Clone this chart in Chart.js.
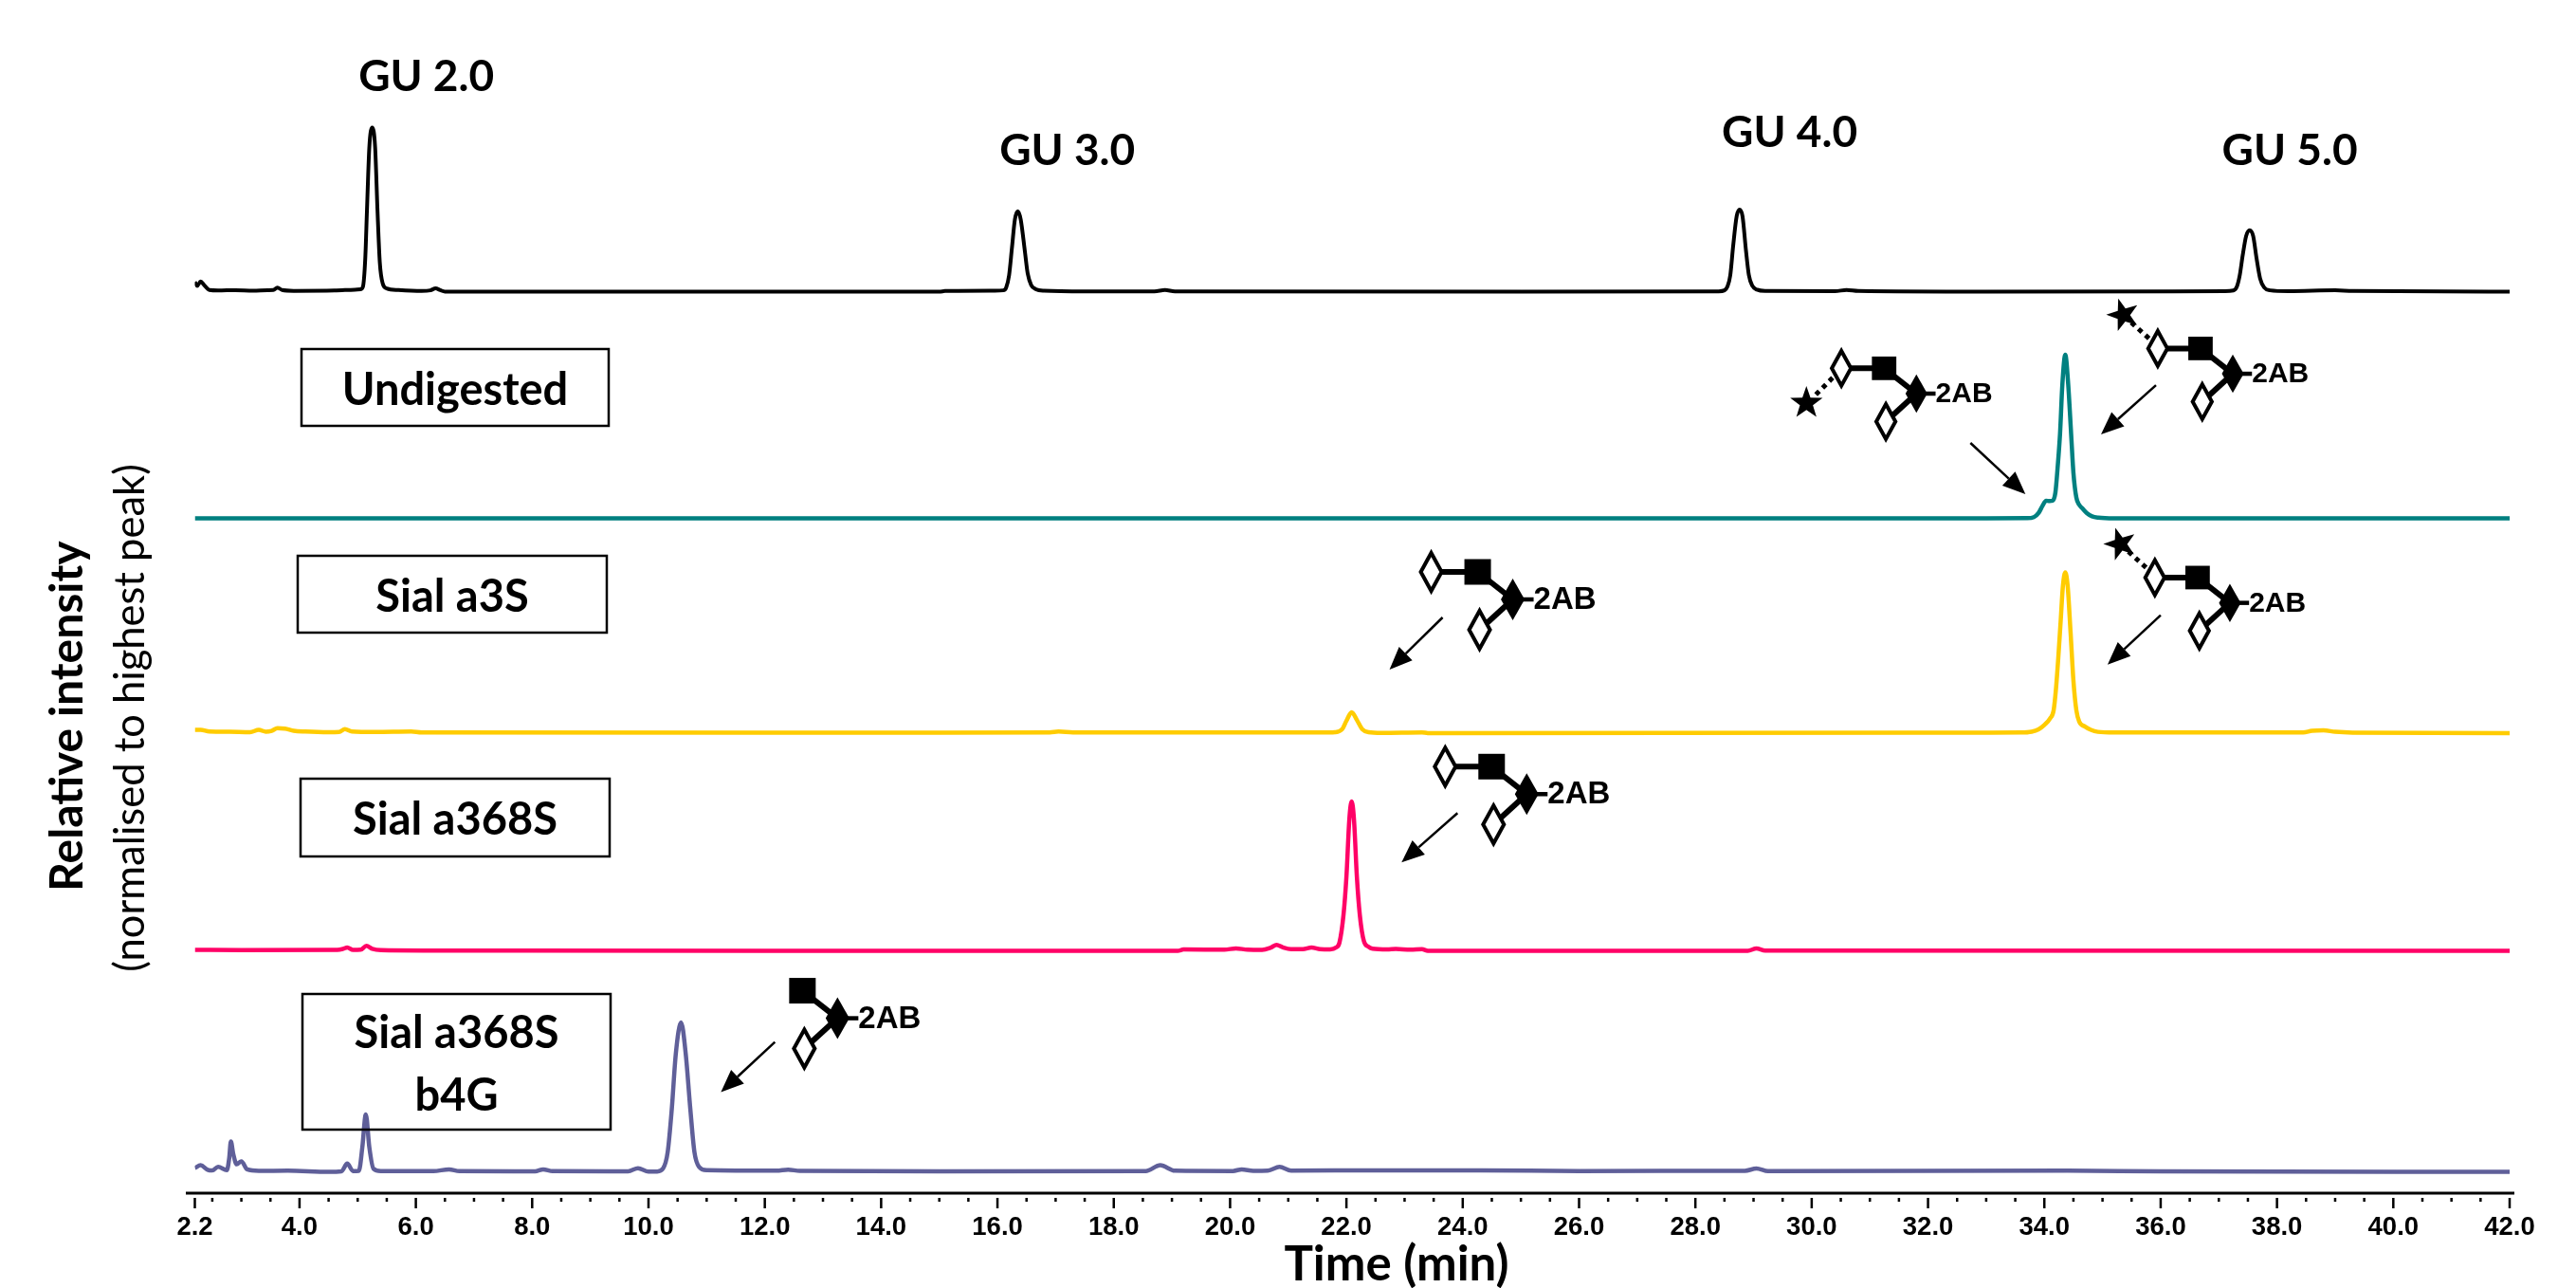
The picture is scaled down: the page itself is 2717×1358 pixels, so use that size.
<!DOCTYPE html>
<html>
<head>
<meta charset="utf-8">
<title>Exoglycosidase digestion chromatograms</title>
<script src="https://cdn.jsdelivr.net/npm/chart.js@4"></script>
<style>
    html, body { margin: 0; padding: 0; background: #fff; }
    canvas { display: block; }
</style>
</head>
<body>
<canvas id="chart" width="2717" height="1358"></canvas>
<script>
// DATA: [time (min), relative intensity]
const ladderTrace = [
    [2.2,6],[2.24,3.5],[2.3,6.2],[2.36,4],[2.45,1],[2.6,0.7],[2.9,0.9],[3.2,0.6],[3.45,0.9],[3.55,1],[3.62,2.5],[3.7,1],
    [3.9,0.5],[4.6,0.7],[4.95,1.2],[5.05,1.5],[5.09,3],[5.13,20],[5.16,50],[5.2,88],[5.25,100],[5.3,88],[5.34,50],[5.38,18],
    [5.43,5],[5.5,2],[5.7,1],[6.1,0.4],[6.25,0.8],[6.34,2],[6.42,0.9],[6.5,0],[12,0],[15,0],[15.1,0.4],[15.95,0.6],[16.1,0.8],
    [16.15,2.5],[16.2,10],[16.25,27],[16.3,44],[16.35,49],[16.4,44],[16.47,25],[16.52,11],[16.58,4],[16.66,1.5],[16.8,0.6],
    [17.5,0.2],[18.7,0.2],[18.88,1],[19.05,0.1],[25,0],[28.4,0.2],[28.5,0.8],[28.55,3],[28.6,10],[28.65,28],[28.71,46],[28.76,50],
    [28.81,46],[28.87,25],[28.92,10],[28.98,3.5],[29.06,1.2],[29.2,0.4],[30.4,0.3],[30.6,1],[30.8,0.4],[33,0],[37.1,0.3],[37.25,0.7],
    [37.31,3],[37.36,10],[37.41,22],[37.47,34],[37.53,37.5],[37.59,34],[37.65,20],[37.71,8],[37.78,2.5],[37.88,0.8],[38.2,0.3],
    [39,0.8],[39.3,0.4],[42,0]
];
const undigestedTrace = [
    [2.2,0.3],[15,0.3],[30,0.3],[33,0.3],[33.7,0.4],[33.82,1],[33.9,3.5],[33.97,8],[34.03,11],[34.09,10.8],[34.14,11],[34.19,16],
    [34.23,32],[34.27,52],[34.31,82],[34.36,100],[34.41,82],[34.46,52],[34.5,28],[34.55,13],[34.6,8.5],[34.65,6.5],[34.73,3.5],
    [34.82,1.5],[34.93,0.7],[35.2,0.3],[42,0.3]
];
const sialA3Trace = [
    [2.2,2],[2.3,2],[2.45,1],[2.8,0.8],[3.15,0.6],[3.3,2],[3.42,0.9],[3.52,1.4],[3.62,3],[3.75,2.8],[3.9,1.5],[4.1,1],[4.5,0.6],
    [4.68,0.7],[4.78,2.5],[4.9,1],[5.3,0.7],[5.92,1],[6.1,0.4],[12,0.3],[15,0.3],[16.9,0.5],[17.05,1],[17.3,0.5],[21.6,0.4],[21.8,0.6],
    [21.93,2.5],[22.0,7.5],[22.09,12.7],[22.18,8],[22.27,2.5],[22.38,0.6],[22.6,0.2],[23.3,0.5],[23.4,0],[33,0.3],[33.6,0.4],
    [33.78,0.9],[33.9,2.3],[34.0,5],[34.1,9],[34.16,14],[34.2,27],[34.24,46],[34.28,68],[34.32,90],[34.36,98],[34.4,90],[34.45,62],
    [34.5,32],[34.55,14],[34.6,7],[34.7,4],[34.8,2],[34.92,0.8],[35.2,0.4],[38.45,0.4],[38.6,1.4],[38.8,1.7],[39.0,0.8],[39.3,0.3],[42,0]
];
const sialA368Trace = [
    [2.2,0.6],[3,0.5],[4.65,0.6],[4.75,1.2],[4.82,2],[4.92,0.6],[5.05,0.7],[5.15,3],[5.25,1.2],[5.4,0.4],[6.2,0.2],[12,0],[19.1,0],
    [19.2,0.8],[19.9,0.7],[20.1,1.5],[20.3,0.7],[20.55,0.6],[20.7,2],[20.8,3.6],[20.9,2.2],[21.05,1],[21.25,1],[21.4,2],[21.55,1],
    [21.72,0.9],[21.82,2],[21.88,5],[21.95,22],[22.0,45],[22.05,80],[22.09,91],[22.13,80],[22.18,45],[22.23,22],[22.3,6],[22.38,2.5],
    [22.45,1.3],[22.7,0.9],[22.85,1.1],[23.1,0.7],[23.3,1],[23.4,0],[28.9,0],[29.05,1.5],[29.2,0.2],[42,0]
];
const sialB4Trace = [
    [2.2,2.3],[2.3,4],[2.42,1.2],[2.5,0.8],[2.6,3],[2.75,1],[2.79,8],[2.82,18.5],[2.86,11],[2.92,4.6],[3.0,6.4],[3.1,1.5],[3.3,0.6],
    [3.8,0.7],[4.5,0],[4.72,0.3],[4.82,5],[4.92,0.5],[5.02,0.6],[5.08,15],[5.14,35],[5.2,15],[5.27,2],[5.4,0.5],[6.3,0.4],[6.57,1.5],
    [6.75,0.4],[8.05,0.3],[8.19,1.5],[8.35,0.4],[9.65,0.3],[9.82,2.2],[10.0,0.2],[10.15,0.2],[10.25,2],[10.33,12],[10.4,38],[10.47,72],
    [10.56,91],[10.64,72],[10.72,38],[10.79,12],[10.87,3],[11.0,1],[12.2,0.7],[12.4,1.3],[12.6,0.6],[15,0.3],[18.55,0.5],[18.8,4],
    [19.05,0.7],[20.05,0.5],[20.2,1.5],[20.4,0.6],[20.65,0.7],[20.85,3],[21.05,0.7],[22.5,0.9],[24.3,0.9],[26,0.5],[28.85,0.6],[29.05,2],
    [29.25,0.4],[34.4,0.7],[36,0.3],[42,0]
];

const seriesTraces = [ladderTrace, undigestedTrace, sialA3Trace, sialA368Trace, sialB4Trace];
const seriesNames = ['GU ladder', 'Undigested', 'Sial a3S', 'Sial a368S', 'Sial a368S b4G'];
const seriesColors = ['#000000', '#008080', '#ffcc00', '#ff0066', '#5f5f99'];
const baselinePx = [307.5, 547, 773, 1002.5, 1235.5];

const majorTicks = [2.2, 4, 6, 8, 10, 12, 14, 16, 18, 20, 22, 24, 26, 28, 30, 32, 34, 36, 38, 40, 42];

const guLabels = [
    { text: 'GU 2.0', t: 6.18, v: 131 },
    { text: 'GU 3.0', t: 17.2, v: 86 },
    { text: 'GU 4.0', t: 29.62, v: 97 },
    { text: 'GU 5.0', t: 38.22, v: 86 }
];

const sampleBoxes = [
    { lines: ['Undigested'], x: 318, y: 368, w: 324, h: 81 },
    { lines: ['Sial a3S'], x: 314, y: 586, w: 326, h: 81 },
    { lines: ['Sial a368S'], x: 317, y: 821, w: 326, h: 82 },
    { lines: ['Sial a368S', 'b4G'], x: 319, y: 1048, w: 325, h: 143 }
];

// core = position of the filled diamond, given in time / intensity of that trace
const glycans = [
    { scale: 'y1', t: 31.8, v: 76.3, size: 0.92, upper: true, star: 'left', arrow: [57, 52, 115, 106] },
    { scale: 'y1', t: 37.24, v: 88.4, size: 0.92, upper: true, star: 'up', arrow: [-81, 12, -139, 64] },
    { scale: 'y2', t: 37.19, v: 79.4, size: 0.92, upper: true, star: 'up', arrow: [-73, 13, -129, 65] },
    { scale: 'y2', t: 24.86, v: 81.5, size: 1, upper: true, star: null, arrow: [-74, 19, -130, 74] },
    { scale: 'y3', t: 25.1, v: 95.5, size: 1, upper: true, star: null, arrow: [-73, 20, -132, 72] },
    { scale: 'y4', t: 13.25, v: 93.6, size: 1, upper: false, star: null, arrow: [-66, 25, -123, 78] }
];

// LAYOUT
const areaBottom = 1258;
const pxPerUnit = 1.73;
const minorTicks = [];
for (let t = 2.5; t < 42; t += 0.5) {
    if (t % 2 !== 0) minorTicks.push(t);
}

// HELPERS
function centerText(ctx, text, x, y, font) {
    ctx.font = font;
    ctx.textAlign = 'center';
    ctx.textBaseline = 'middle';
    ctx.fillText(text, x, y);
}

function diamond(ctx, x, y, hw, hh, filled, lw) {
    ctx.beginPath();
    ctx.moveTo(x, y - hh);
    ctx.lineTo(x + hw, y);
    ctx.lineTo(x, y + hh);
    ctx.lineTo(x - hw, y);
    ctx.closePath();
    if (filled) {
        ctx.fill();
    } else {
        ctx.lineWidth = lw;
        ctx.stroke();
    }
}

function star(ctx, x, y, r, rot) {
    ctx.beginPath();
    for (let i = 0; i < 10; i++) {
        const rad = i % 2 === 0 ? r : r * 0.4;
        const a = rot - Math.PI / 2 + i * Math.PI / 5;
        ctx.lineTo(x + rad * Math.cos(a), y + rad * Math.sin(a));
    }
    ctx.closePath();
    ctx.fill();
}

function segment(ctx, x1, y1, x2, y2, lw, dash) {
    ctx.beginPath();
    ctx.setLineDash(dash || []);
    ctx.lineWidth = lw;
    ctx.moveTo(x1, y1);
    ctx.lineTo(x2, y2);
    ctx.stroke();
    ctx.setLineDash([]);
}

function arrow(ctx, x1, y1, x2, y2) {
    const a = Math.atan2(y2 - y1, x2 - x1);
    const len = 24, half = 10;
    const bx = x2 - len * Math.cos(a), by = y2 - len * Math.sin(a);
    segment(ctx, x1, y1, bx, by, 2.5);
    ctx.beginPath();
    ctx.moveTo(x2, y2);
    ctx.lineTo(bx - half * Math.sin(a), by + half * Math.cos(a));
    ctx.lineTo(bx + half * Math.sin(a), by - half * Math.cos(a));
    ctx.closePath();
    ctx.fill();
}

function drawGlycan(ctx, g, cx, cy) {
    const s = g.size;
    const ux = cx - 86 * s, uy = cy - 29 * s;
    const qx = cx - 37 * s, qy = cy - 29 * s;
    const lx = cx - 35 * s, ly = cy + 32 * s;

    segment(ctx, qx, qy, cx, cy, 6);
    segment(ctx, cx, cy, lx, ly, 6);
    segment(ctx, cx, cy, cx + 22 * s, cy, 4.5);
    if (g.upper) segment(ctx, ux + 11 * s, uy, qx, qy, 6);

    ctx.fillRect(qx - 14 * s, qy - 13.5 * s, 28 * s, 27 * s);
    diamond(ctx, cx, cy, 12.5 * s, 22 * s, true);
    ctx.save();
    ctx.fillStyle = '#fff';
    diamond(ctx, lx, ly, 11 * s, 20 * s, true);
    ctx.restore();
    diamond(ctx, lx, ly, 11 * s, 20 * s, false, 4);
    if (g.upper) {
        ctx.save();
        ctx.fillStyle = '#fff';
        diamond(ctx, ux, uy, 11 * s, 20 * s, true);
        ctx.restore();
        diamond(ctx, ux, uy, 11 * s, 20 * s, false, 4);
    }

    if (g.star === 'up') {
        segment(ctx, cx - 107, cy - 54, cx - 87, cy - 36, 5, [5, 5]);
        star(ctx, cx - 115.5, cy - 62, 18, -0.3);
    } else if (g.star === 'left') {
        segment(ctx, cx - 106, cy + 1, cx - 88, cy - 17, 5, [5, 5]);
        star(ctx, cx - 116, cy + 10, 18, 0);
    }

    ctx.font = 'bold ' + Math.round(33 * s) + 'px "Liberation Sans"';
    ctx.textAlign = 'left';
    ctx.textBaseline = 'middle';
    ctx.fillText('2AB', cx + 22 * s, cy + 1);

    arrow(ctx, cx + g.arrow[0], cy + g.arrow[1], cx + g.arrow[2], cy + g.arrow[3]);
}

// ANNOTATIONS: axis line, tick marks, titles, sample boxes, glycan cartoons
const annotationPlugin = {
    id: 'annotations',
    afterDraw(chart) {
        const ctx = chart.ctx;
        const x = chart.scales.x;
        ctx.save();
        ctx.strokeStyle = '#000';
        ctx.fillStyle = '#000';

        segment(ctx, 196, areaBottom, x.getPixelForValue(42) + 5, areaBottom, 3);
        majorTicks.forEach(t => {
            const px = x.getPixelForValue(t);
            segment(ctx, px, areaBottom + 5, px, areaBottom + 16, 2.5);
        });
        minorTicks.forEach(t => {
            const px = x.getPixelForValue(t);
            segment(ctx, px, areaBottom + 5, px, areaBottom + 9, 2.5);
        });

        guLabels.forEach(l => {
            centerText(ctx, l.text, x.getPixelForValue(l.t), chart.scales.y0.getPixelForValue(l.v), 'bold 46px Lato');
        });

        sampleBoxes.forEach(b => {
            ctx.lineWidth = 2.5;
            ctx.strokeRect(b.x, b.y, b.w, b.h);
            const cy = b.y + b.h / 2;
            b.lines.forEach((line, i) => {
                const y = cy + (i - (b.lines.length - 1) / 2) * 66 + 3;
                centerText(ctx, line, b.x + b.w / 2, y, 'bold 47px Lato');
            });
        });

        centerText(ctx, 'Time (min)', 1473, 1334, 'bold 51px Lato');

        ctx.save();
        ctx.translate(72, 755);
        ctx.rotate(-Math.PI / 2);
        centerText(ctx, 'Relative intensity', 0, 0, 'bold 48px Lato');
        ctx.restore();
        ctx.save();
        ctx.translate(138, 757);
        ctx.rotate(-Math.PI / 2);
        centerText(ctx, '(normalised to highest peak)', 0, 0, '43.5px Lato');
        ctx.restore();

        glycans.forEach(g => {
            drawGlycan(ctx, g, x.getPixelForValue(g.t), chart.scales[g.scale].getPixelForValue(g.v));
        });
        ctx.restore();
    }
};

// BUILD SCALES AND DATASETS
const scales = {
    x: {
        type: 'linear',
        min: 2.2,
        max: 42,
        afterFit(scale) { scale.height = 1358 - areaBottom; },
        afterBuildTicks(scale) { scale.ticks = majorTicks.map(v => ({ value: v })); },
        grid: { display: false, drawTicks: false },
        border: { display: false },
        ticks: {
            autoSkip: false,
            maxRotation: 0,
            padding: 20,
            color: '#000',
            font: { family: '"Liberation Sans"', weight: 'bold', size: 27.5 },
            callback: v => v.toFixed(1)
        }
    }
};
baselinePx.forEach((base, i) => {
    scales['y' + i] = {
        display: false,
        min: -(areaBottom - base) / pxPerUnit,
        max: base / pxPerUnit
    };
});

const datasets = seriesTraces.map((trace, i) => ({
    label: seriesNames[i],
    data: trace.map(p => ({ x: p[0], y: p[1] })),
    yAxisID: 'y' + i,
    borderColor: seriesColors[i],
    borderWidth: i === 0 ? 4 : 4.5,
    pointRadius: 0,
    cubicInterpolationMode: 'monotone',
    fill: false
}));

new Chart(document.getElementById('chart').getContext('2d'), {
    type: 'line',
    data: { datasets: datasets },
    options: {
        responsive: false,
        animation: false,
        layout: { padding: { left: 205.5, right: 70, top: 0, bottom: 0 } },
        scales: scales,
        plugins: {
            legend: { display: false },
            title: { display: false },
            tooltip: { enabled: false }
        }
    },
    plugins: [annotationPlugin]
});
</script>
</body>
</html>
